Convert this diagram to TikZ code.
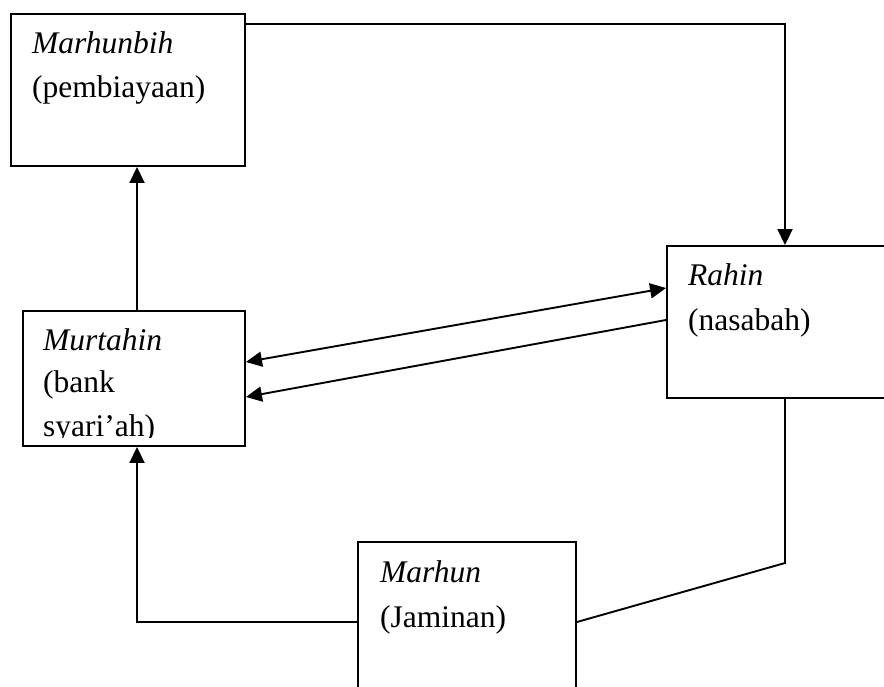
\documentclass[tikz,border=0pt]{standalone}
\usepackage{fontspec}
\setmainfont{Liberation Serif}
\usetikzlibrary{arrows.meta,calc}
\tikzset{
  box/.style={draw=black, line width=1.9pt, rectangle, inner sep=0pt, fill=none},
  lbl/.style={anchor=base west, inner sep=0pt, font=\fontsize{31.5}{44}\selectfont},
  conn/.style={draw=black, line width=1.9pt},
  arr/.style={conn, -{Triangle[length=16pt,width=15pt]}},
  darr/.style={conn, {Triangle[length=16pt,width=15pt]}-{Triangle[length=16pt,width=15pt]}}
}
\begin{document}
\begin{tikzpicture}[x=1pt,y=-1pt]
\clip (0,0) rectangle (884,686);
\fill[white] (0,0) rectangle (884,686);
% boxes
\node[box, minimum width=234pt, minimum height=152pt] (mb) at (128,90) {};
\node[box, minimum width=236pt, minimum height=152pt] (rh) at (785,322) {};
\node[box, minimum width=222pt, minimum height=135pt] (mt) at (134,378.5) {};
\node[box, minimum width=218pt, minimum height=188pt] (mh) at (467,636) {};
% texts
\node[lbl] (t1) at (32,53) {\textit{Marhunbih}};
\node[lbl] (t2) at (32,97) {(pembiayaan)};
\node[lbl] (t3) at (688,285) {\textit{Rahin}};
\node[lbl] (t4) at (688,330) {(nasabah)};
\node[lbl] (t5) at (43,350) {\textit{Murtahin}};
\node[lbl] (t6) at (43,392) {(bank};
\begin{scope}
\clip (30,400) rectangle (240,437.5);
\node[lbl] (t7) at (43,436) {syari’ah)};
\end{scope}
\node[lbl] (t8) at (380,582) {\textit{Marhun}};
\node[lbl] (t9) at (380,627) {(Jaminan)};
% connectors
\draw[arr] ([yshift=-11pt]mb.north east) -| (rh.north);
\draw[arr] ([xshift=3pt]mt.north) -- ([xshift=3pt]mt.north |- mb.south);
\draw[darr] ([yshift=16.5pt]mt.east) -- ([yshift=34pt]rh.west);
\draw[arr] ([yshift=2pt]rh.west) -- ([yshift=-18.5pt]mt.east);
\coordinate (bend) at (785,563);
\draw[conn] (rh.south) -- (bend) -- ([yshift=14pt]mh.east);
\draw[arr] ([yshift=14pt]mh.west) -| ([xshift=3pt]mt.south);
\end{tikzpicture}
\end{document}
